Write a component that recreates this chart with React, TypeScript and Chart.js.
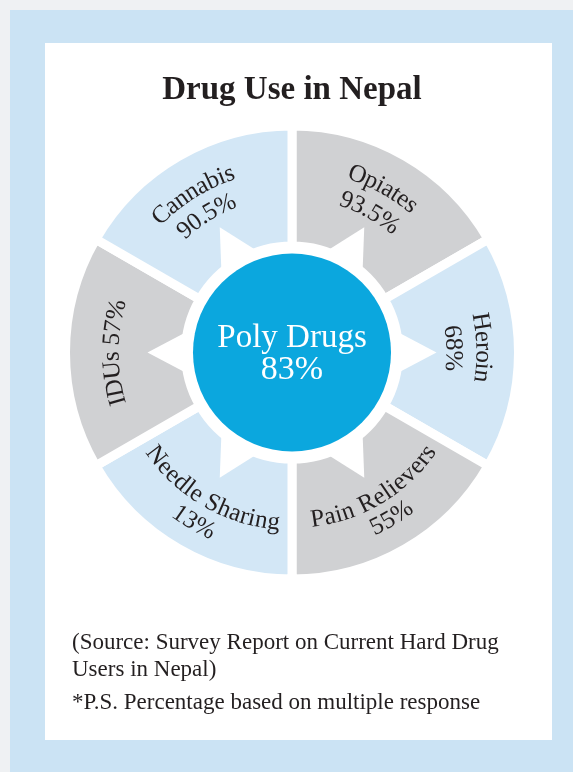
import React, { useEffect, useRef } from "react";
import { Chart, registerables } from "chart.js";

Chart.register(...registerables);

// ---- data ----
const segmentLabels = ["Opiates", "Heroin", "Pain Relievers", "Needle Sharing", "IDUs", "Cannabis"];
const segmentValues = [93.5, 68, 55, 13, 57, 90.5]; // % of users
const sliceWeights = [1, 1, 1, 1, 1, 1]; // slices drawn equal in the original
const centerLabel = "Poly Drugs";
const centerValue = 83;
const titleText = "Drug Use in Nepal";
const sourceLines = ["(Source: Survey Report on Current Hard Drug", "Users in Nepal)"];
const noteText = "*P.S. Percentage based on multiple response";

// ---- styling ----
const segColors = ["#d0d1d3", "#d3e7f6", "#d0d1d3", "#d3e7f6", "#d0d1d3", "#d3e7f6"];
const FONT = '"Liberation Serif", "Times New Roman", serif';
const TEXT = "#231f20";

// label layout: style (outward = tops point away from centre), radii per line, angle offset (deg)
type Lay = { outward: boolean; radii: number[]; dAng: number; single?: boolean };
const labelLayout: Lay[] = [
  { outward: true, radii: [189, 161], dAng: -1 },
  { outward: true, radii: [191, 161], dAng: -1.5 },
  { outward: false, radii: [169, 194], dAng: -1 },
  { outward: false, radii: [171, 197], dAng: 0 },
  { outward: true, radii: [180], dAng: 0, single: true },
  { outward: true, radii: [189, 162], dAng: -2 },
];

function drawArcText(ctx: CanvasRenderingContext2D, cx: number, cy: number, text: string, r: number, phiC: number, outward: boolean) {
  const chars = [...text];
  const widths = chars.map((c) => ctx.measureText(c).width);
  const total = widths.reduce((a, b) => a + b, 0);
  const totalAng = total / r;
  let phi = outward ? phiC - totalAng / 2 : phiC + totalAng / 2;
  chars.forEach((ch, i) => {
    const half = widths[i] / 2 / r;
    const p = outward ? phi + half : phi - half;
    ctx.save();
    ctx.translate(cx, cy);
    if (outward) {
      ctx.rotate(p + Math.PI / 2);
      ctx.fillText(ch, 0, -r);
    } else {
      ctx.rotate(p - Math.PI / 2);
      ctx.fillText(ch, 0, r);
    }
    ctx.restore();
    phi = outward ? phi + 2 * half : phi - 2 * half;
  });
}

const decorPlugin = {
  id: "decor",
  afterDatasetsDraw(chart: any) {
    const ctx: CanvasRenderingContext2D = chart.ctx;
    const arcs = chart.getDatasetMeta(0).data;
    const cx = arcs[0].x;
    const cy = arcs[0].y;
    const inner = arcs[0].innerRadius;
    ctx.save();
    // white rays
    ctx.fillStyle = "#ffffff";
    arcs.forEach((a: any) => {
      const mid = (a.startAngle + a.endAngle) / 2;
      const rb = inner + 2;
      const tip = inner + 38;
      const hw = 19;
      const ux = Math.cos(mid), uy = Math.sin(mid);
      const px = -uy, py = ux;
      ctx.beginPath();
      ctx.moveTo(cx + ux * rb + px * hw, cy + uy * rb + py * hw);
      ctx.lineTo(cx + ux * tip, cy + uy * tip);
      ctx.lineTo(cx + ux * rb - px * hw, cy + uy * rb - py * hw);
      ctx.closePath();
      ctx.fill();
    });
    // centre circle
    ctx.fillStyle = "#0ba7de";
    ctx.beginPath();
    ctx.arc(cx, cy, inner - 7.5, 0, Math.PI * 2);
    ctx.fill();
    ctx.fillStyle = "#ffffff";
    ctx.textAlign = "center";
    ctx.textBaseline = "alphabetic";
    ctx.font = `33px ${FONT}`;
    ctx.fillText(centerLabel, cx, cy - 5.5);
    ctx.font = `34px ${FONT}`;
    ctx.fillText(`${centerValue}%`, cx, cy + 26.5);
    // segment labels
    ctx.fillStyle = TEXT;
    ctx.font = `25px ${FONT}`;
    ctx.textAlign = "center";
    ctx.textBaseline = "middle";
    arcs.forEach((a: any, i: number) => {
      const lay = labelLayout[i];
      const mid = (a.startAngle + a.endAngle) / 2 + (lay.dAng * Math.PI) / 180;
      const lines = lay.single
        ? [`${segmentLabels[i]} ${segmentValues[i]}%`]
        : [segmentLabels[i], `${segmentValues[i]}%`];
      lines.forEach((t, j) => drawArcText(ctx, cx, cy, t, lay.radii[j], mid, lay.outward));
    });
    ctx.restore();
  },
};

function DonutCanvas() {
  const ref = useRef<HTMLCanvasElement>(null);
  useEffect(() => {
    if (!ref.current) return;
    const chart = new Chart(ref.current, {
      type: "doughnut",
      data: {
        labels: segmentLabels,
        datasets: [
          {
            data: sliceWeights,
            backgroundColor: segColors,
            borderColor: "#ffffff",
            borderWidth: 9,
            borderJoinStyle: "miter",
            hoverOffset: 0,
          } as any,
        ],
      },
      options: {
        responsive: false,
        animation: false,
        devicePixelRatio: 1,
        events: [],
        cutout: 106.5,
        layout: { padding: { left: 61, top: 121.5, right: 50, bottom: 188.5 } },
        plugins: { legend: { display: false }, tooltip: { enabled: false }, title: { display: false } },
      } as any,
      plugins: [decorPlugin],
    });
    return () => chart.destroy();
  }, []);
  return (
    <canvas ref={ref} width={573} height={772} style={{ position: "absolute", left: 0, top: 0, width: 573, height: 772 }} />
  );
}

export default function App() {
  const line = (top: number, text: string) => (
    <div
      style={{
        position: "absolute",
        left: 72,
        top,
        fontFamily: FONT,
        fontSize: 23,
        lineHeight: "23px",
        color: TEXT,
        whiteSpace: "nowrap",
      }}
    >
      {text}
    </div>
  );
  return (
    <div style={{ position: "absolute", left: 0, top: 0, width: 573, height: 772, background: "#eff1f3", overflow: "hidden" }}>
      <div style={{ position: "absolute", left: 10, top: 10, right: 0, bottom: 0, background: "#cbe3f4" }} />
      <div style={{ position: "absolute", left: 45, top: 43, width: 507, height: 697, background: "#ffffff" }} />
      <DonutCanvas />
      <div
        style={{
          position: "absolute",
          left: 0,
          width: 584,
          top: 72.4,
          textAlign: "center",
          fontFamily: FONT,
          fontWeight: "bold",
          fontSize: 33,
          lineHeight: "33px",
          color: TEXT,
          whiteSpace: "nowrap",
        }}
      >
        {titleText}
      </div>
      {line(629.7, sourceLines[0])}
      {line(656.7, sourceLines[1])}
      {line(689.7, noteText)}
    </div>
  );
}
